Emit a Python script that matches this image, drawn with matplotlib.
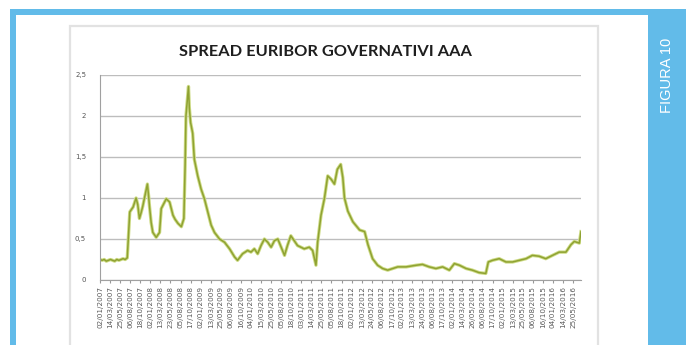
import matplotlib
matplotlib.use("Agg")
import matplotlib.pyplot as plt
from matplotlib.patches import Rectangle
import numpy as np

# ---- data (months since Jan 2007, spread value) ----
t_months = [0.0, 0.5, 1.0, 1.5, 2.0, 2.5, 3.0, 3.5, 4.0, 4.5, 5.0, 5.5, 6.0, 6.5,
            7.1, 7.9, 8.6, 9.0, 9.4, 9.8, 10.2, 10.8, 11.3, 11.6, 11.8, 12.2, 12.6,
            13.4, 14.2, 14.6, 15.2, 15.8, 16.6, 17.4, 17.9, 18.6, 19.4, 20.0, 20.3,
            20.5, 21.1, 21.3, 21.6, 22.1, 22.5, 23.3, 24.1, 24.9, 25.7, 26.5, 27.3,
            28.5, 29.7, 30.9, 32.1, 32.8, 34.0, 35.2, 36.0, 36.8, 37.6, 38.4, 39.2,
            40.0, 40.8, 41.6, 42.4, 43.2, 44.0, 44.7, 45.5, 46.3, 47.1, 47.9, 48.7,
            49.9, 50.7, 51.5, 51.9, 52.7, 53.5, 54.3, 55.1, 55.9, 56.6, 57.4, 57.9,
            58.3, 59.1, 60.3, 61.9, 63.1, 63.9, 65.0, 66.2, 67.4, 68.6, 69.8, 71.0,
            73.0, 75.4, 76.9, 78.5, 80.1, 81.7, 83.3, 84.5, 85.7, 87.3, 88.8, 90.4,
            92.0, 92.6, 93.6, 95.2, 96.8, 98.4, 100.0, 101.6, 103.1, 104.7, 106.3,
            107.9, 109.5, 111.1, 112.3, 113.1, 114.3, 114.7]
spread = [0.25, 0.24, 0.25, 0.23, 0.24, 0.25, 0.24, 0.23, 0.25, 0.24, 0.25, 0.26, 0.25, 0.27,
          0.83, 0.89, 1.00, 0.92, 0.75, 0.82, 0.90, 1.05, 1.17, 1.02, 0.90, 0.70, 0.58,
          0.52, 0.58, 0.87, 0.93, 0.99, 0.95, 0.79, 0.74, 0.69, 0.65, 0.75, 1.40,
          2.00, 2.36, 2.10, 1.92, 1.79, 1.47, 1.27, 1.11, 0.99, 0.83, 0.67, 0.58,
          0.50, 0.46, 0.38, 0.28, 0.24, 0.32, 0.36, 0.34, 0.38, 0.32, 0.42, 0.50,
          0.46, 0.40, 0.48, 0.50, 0.40, 0.30, 0.42, 0.54, 0.48, 0.42, 0.40, 0.38,
          0.40, 0.36, 0.18, 0.46, 0.79, 0.99, 1.27, 1.23, 1.17, 1.35, 1.41, 1.25,
          1.00, 0.84, 0.71, 0.61, 0.59, 0.43, 0.26, 0.18, 0.14, 0.12, 0.14, 0.16,
          0.16, 0.18, 0.19, 0.16, 0.14, 0.16, 0.12, 0.20, 0.18, 0.14, 0.12, 0.09,
          0.08, 0.22, 0.24, 0.26, 0.22, 0.22, 0.24, 0.26, 0.30, 0.29, 0.26,
          0.30, 0.34, 0.34, 0.43, 0.47, 0.45, 0.59]

x_labels = ["02/01/2007", "14/03/2007", "25/05/2007", "06/08/2007", "18/10/2007",
            "02/01/2008", "13/03/2008", "23/05/2008", "05/08/2008", "17/10/2008",
            "02/01/2009", "13/03/2009", "25/05/2009", "06/08/2009", "16/10/2009",
            "04/01/2010", "15/03/2010", "25/05/2010", "05/08/2010", "18/10/2010",
            "03/01/2011", "14/03/2011", "25/05/2011", "05/08/2011", "18/10/2011",
            "02/01/2012", "13/03/2012", "24/05/2012", "06/08/2012", "17/10/2012",
            "02/01/2013", "13/03/2013", "24/05/2013", "06/08/2013", "17/10/2013",
            "02/01/2014", "14/03/2014", "26/05/2014", "06/08/2014", "17/10/2014",
            "02/01/2015", "13/03/2015", "25/05/2015", "06/08/2015", "16/10/2015",
            "04/01/2016", "14/03/2016", "25/05/2016"]
y_ticks = [0, 0.5, 1, 1.5, 2, 2.5]
y_labels = ["0", "0,5", "1", "1,5", "2", "2,5"]

title = "SPREAD EURIBOR GOVERNATIVI AAA"
side_label = "FIGURA 10"

# ---- figure ----
W, H = 686, 345
fig = plt.figure(figsize=(W / 100, H / 100), dpi=100)
fig.patch.set_facecolor("white")

def px_rect(x0, y0, x1, y1, **kw):
    r = Rectangle((x0 / W, 1 - y1 / H), (x1 - x0) / W, (y1 - y0) / H,
                  transform=fig.transFigure, zorder=-5, **kw)
    fig.add_artist(r)
    return r

blue = "#62bbe9"
# blue frame
px_rect(10, 9, 650, 15, facecolor=blue, edgecolor="none")
px_rect(10, 9, 16, 345, facecolor=blue, edgecolor="none")
px_rect(648, 9, 686, 345, facecolor=blue, edgecolor="none")
fig.text(667 / W, 1 - 75 / H, side_label, rotation=90, color="white",
         fontsize=10.5, ha="center", va="center", family="Liberation Sans")

# chart image box with soft border
px_rect(70, 26, 598, 350, facecolor="white", edgecolor="#e2e2e2", linewidth=1.6)

fig.text(325 / W, 1 - 52 / H, title, fontsize=11.8, fontweight="bold",
         ha="center", va="center", color="#1e1e1e", family="Lato")

ax = fig.add_axes([100 / W, 1 - 280 / H, 481 / W, 205 / H])
ax.set_zorder(2)
ax.set_facecolor("none")
ax.plot(t_months, spread, color="#cddb85", lw=2.4, solid_joinstyle="round")
ax.plot(t_months, spread, color="#8fa232", lw=1.1, solid_joinstyle="round")
ax.set_xlim(0, 114.7)
ax.set_ylim(0, 2.5)
ax.set_yticks(y_ticks)
ax.set_yticklabels(y_labels, fontsize=5, color="#555555")
ax.set_xticks(np.arange(len(x_labels)) * 2.4)
ax.set_xticklabels(x_labels, rotation=90, fontsize=5.2, color="#5a5a5a")
ax.tick_params(axis="y", length=0, pad=10)
ax.tick_params(axis="x", length=2, color="#999999", pad=2)
ax.grid(axis="y", color="#bdbdbd", linewidth=1.0)
ax.set_axisbelow(True)
for s in ["top", "right"]:
    ax.spines[s].set_visible(False)
ax.spines["left"].set_color("#a0a0a0")
ax.spines["bottom"].set_color("#a0a0a0")

fig.savefig("out.png", dpi=100, facecolor="white")
